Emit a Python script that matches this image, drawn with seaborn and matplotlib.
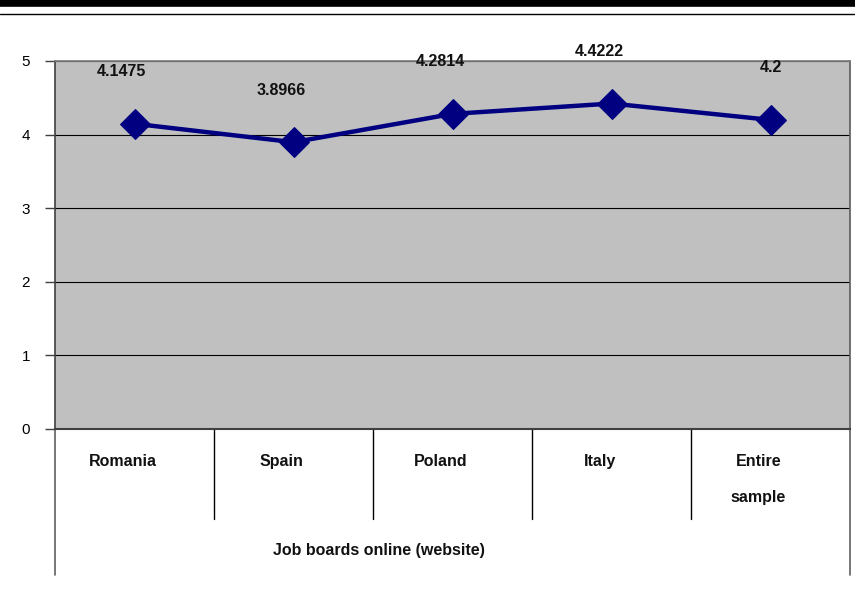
import matplotlib
matplotlib.use("Agg")
import matplotlib.pyplot as plt
import seaborn as sns
import pandas as pd
from matplotlib.lines import Line2D

categories = ["Romania", "Spain", "Poland", "Italy", "Entire\nsample"]
values = [4.1475, 3.8966, 4.2814, 4.4222, 4.2]
value_labels = ["4.1475", "3.8966", "4.2814", "4.4222", "4.2"]
y_ticks = [0, 1, 2, 3, 4, 5]
x_title = "Job boards online (website)"

sns.set_theme(style="white")
plt.rcParams["font.family"] = ["Liberation Sans", "DejaVu Sans"]

W, H = 855, 601
fig = plt.figure(figsize=(W / 100, H / 100), dpi=100)
L, R, T, B = 55, 850, 61, 429
ax = fig.add_axes([L / W, 1 - B / H, (R - L) / W, (B - T) / H])
ax.set_facecolor("#C0C0C0")

df = pd.DataFrame({"pos": list(range(len(categories))), "val": values})
sns.lineplot(data=df, x="pos", y="val", ax=ax, color="#000080", linewidth=3.2,
             marker="D", markersize=15, markeredgecolor="#000080", zorder=5)

ax.set_xlim(-0.5, len(categories) - 0.5)
ax.set_ylim(0, 5)
ax.set_yticks(y_ticks)
ax.set_yticklabels([str(t) for t in y_ticks], fontsize=11, color="black")
for t in y_ticks[1:]:
    ax.axhline(t, color="black", linewidth=0.8, zorder=1)
ax.set_xticks([])
ax.set_xlabel("")
ax.set_ylabel("")
ax.tick_params(axis="y", which="both", left=True, length=7, width=1, color="#404040", pad=11)
for s in ["left", "bottom", "right", "top"]:
    ax.spines[s].set_visible(True)
ax.spines["left"].set_color("#404040")
ax.spines["bottom"].set_color("#404040")
ax.spines["bottom"].set_linewidth(1.5)
ax.spines["right"].set_color("#606060")
ax.spines["top"].set_color("#808080")
ax.spines["left"].set_linewidth(1.2)

# data labels
for i, (v, lab) in enumerate(zip(values, value_labels)):
    ax.annotate(lab, (i, v), xytext=(12, 52), textcoords="offset pixels",
                ha="right", va="center", fontsize=11.5, fontweight="bold",
                color="#111111", zorder=6)

# category labels and separators
ph = B - T
for i, c in enumerate(categories):
    ax.annotate(c, (i, 0), xytext=(-12, -(454 - B)), textcoords="offset pixels",
                ha="center", va="top",
                fontsize=11.5, fontweight="bold", color="#111111",
                linespacing=2.75, annotation_clip=False)
for i in range(1, len(categories)):
    ax.plot([i - 0.5, i - 0.5], [0, -(519 - B) / ph * 5], color="black",
            linewidth=1, clip_on=False)
for xe, col in [(-0.5, "#606060"), (len(categories) - 0.5, "#606060")]:
    ax.plot([xe, xe], [0, -(575 - B) / ph * 5], color=col, linewidth=1.2,
            clip_on=False)

fig.text(379 / W, 1 - 551 / H, x_title, ha="center", va="center",
         fontsize=11.5, fontweight="bold", color="#111111")

# header rules
fig.add_artist(Line2D([0, 1], [1 - 3 / H, 1 - 3 / H], color="black", linewidth=5.5))
fig.add_artist(Line2D([0, 1], [1 - 14 / H, 1 - 14 / H], color="black", linewidth=1))

fig.savefig("out.png", dpi=100)
